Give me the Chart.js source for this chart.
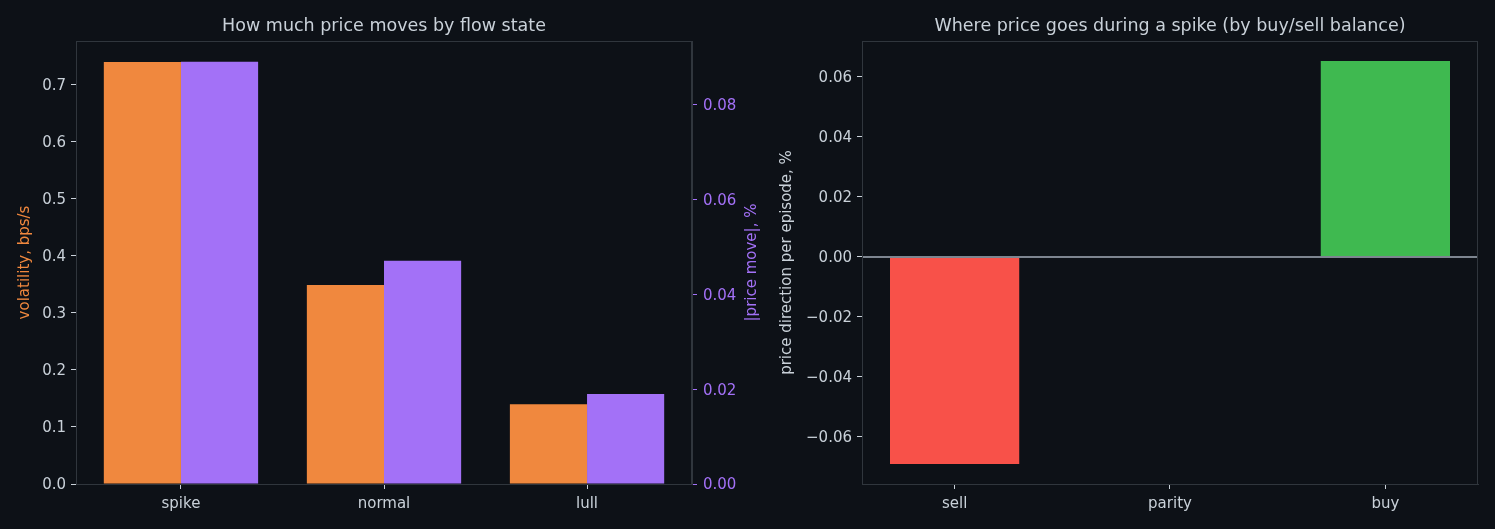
<!DOCTYPE html>
<html><head><meta charset="utf-8">
<script src="https://cdn.jsdelivr.net/npm/chart.js@4"></script>
<style>
html,body{margin:0;padding:0;background:#0d1117;width:1495px;height:529px;overflow:hidden}
canvas{position:absolute;top:0}
</style></head><body>
<canvas id="c1" width="770" height="529" style="left:0"></canvas>
<canvas id="c2" width="725" height="529" style="left:770px"></canvas>
<script>
// ---- data ----
const flowStates = ['spike', 'normal', 'lull'];
const volatility = [0.740, 0.349, 0.140];          // bps/s
const priceMoveAbs = [0.0891, 0.0471, 0.0190];     // %
const volTicks = [0, 0.1, 0.2, 0.3, 0.4, 0.5, 0.6, 0.7];
const volTickLabels = ['0.0','0.1','0.2','0.3','0.4','0.5','0.6','0.7'];
const moveTicks = [0, 0.02, 0.04, 0.06, 0.08];
const moveTickLabels = ['0.00','0.02','0.04','0.06','0.08'];

const balances = ['sell', 'parity', 'buy'];
const direction = [-0.069, 0.0, 0.0653];           // % per episode
const dirTicks = [-0.06, -0.04, -0.02, 0, 0.02, 0.04, 0.06];
const dirTickLabels = ['\u22120.06','\u22120.04','\u22120.02','0.00','0.02','0.04','0.06'];

// ---- style ----
const BG = '#0d1117', FG = '#c9d1d9', SPINE = '#30363d';
const ORANGE = '#f0883e', PURPLE = '#a371f7', RED = '#f85149', GREEN = '#3fb950', GRAY = '#8b949e';
Chart.defaults.font.family = 'DejaVu Sans';
Chart.defaults.font.size = 15;
Chart.defaults.color = FG;

function fixedTicks(vals){ return s => { s.ticks = vals.map(v => ({value: v})); }; }

const framePlugin = {
  id: 'frame',
  beforeDraw(chart){
    const c = chart.ctx; c.save(); c.fillStyle = BG; c.fillRect(0,0,chart.width,chart.height); c.restore();
  },
  afterDraw(chart, args, opts){
    const c = chart.ctx, a = chart.chartArea;
    c.save();
    c.strokeStyle = SPINE; c.lineWidth = 1;
    c.strokeRect(Math.round(a.left)+0.5, Math.round(a.top)+0.5, Math.round(a.right-a.left)-1, Math.round(a.bottom-a.top));
    c.fillStyle = FG; c.font = '17.5px "DejaVu Sans"'; c.textAlign = 'center'; c.textBaseline = 'middle';
    c.fillText(opts.title, (a.left+a.right)/2, 26);
    c.font = '15px "DejaVu Sans"';
    (opts.axisTitles||[]).forEach(t => {
      c.save(); c.translate(t.x, (a.top+a.bottom)/2); c.rotate(-Math.PI/2);
      c.fillStyle = t.color; c.fillText(t.text, 0, 0); c.restore();
    });
    c.restore();
  }
};
const zeroLine = {
  id: 'zeroLine',
  afterDatasetsDraw(chart){
    const y = chart.scales.y.getPixelForValue(0), a = chart.chartArea, c = chart.ctx;
    c.save(); c.strokeStyle = '#7d8590'; c.lineWidth = 2;
    c.beginPath(); c.moveTo(a.left, y); c.lineTo(a.right, y); c.stroke(); c.restore();
  }
};

function tickGrid(color){ return {display:true, offset:false, drawOnChartArea:false, drawTicks:true, tickLength:5, tickColor:color, tickWidth:1}; }

new Chart(document.getElementById('c1'), {
  type: 'bar',
  data: {
    datasets: [
      {data: volatility.map((v,i)=>({x:i,y:v})), backgroundColor: ORANGE, yAxisID:'y', categoryPercentage:0.76, barPercentage:1},
      {data: priceMoveAbs.map((v,i)=>({x:i,y:v})), backgroundColor: PURPLE, yAxisID:'y1', categoryPercentage:0.76, barPercentage:1}
    ]
  },
  options: {
    responsive:false, animation:false,
    layout:{padding:{top:41}},
    plugins:{legend:{display:false}, tooltip:{enabled:false},
      frame:{title:'How much price moves by flow state', axisTitles:[
        {text:'volatility, bps/s', x:25, color:ORANGE},
        {text:'|price move|, %', x:752, color:PURPLE}]}},
    scales:{
      x:{type:'linear', offset:false, min:-0.517, max:2.517, afterBuildTicks: fixedTicks([0,1,2]),
         ticks:{color:FG, padding:6, maxRotation:0, callback:v=>flowStates[v]},
         grid:tickGrid(FG), border:{display:true,color:SPINE}, afterFit:s=>{s.height=45;}},
      y:{position:'left', min:0, max:0.777, afterBuildTicks: fixedTicks(volTicks),
         ticks:{color:FG, padding:5, labelOffset:1.5, callback:v=>volTickLabels[volTicks.findIndex(t=>Math.abs(t-v)<1e-9)]},
         grid:tickGrid(FG), border:{display:true,color:SPINE}, afterFit:s=>{s.width=76;}},
      y1:{position:'right', min:0, max:0.0935, afterBuildTicks: fixedTicks(moveTicks),
         ticks:{color:PURPLE, padding:6, labelOffset:1.5, callback:v=>moveTickLabels[moveTicks.findIndex(t=>Math.abs(t-v)<1e-9)]},
         grid:tickGrid(PURPLE), border:{display:true,color:SPINE}, afterFit:s=>{s.width=78;}}
    }
  },
  plugins:[framePlugin]
});

new Chart(document.getElementById('c2'), {
  type: 'bar',
  data: {
    datasets: [
      {data: direction.map((v,i)=>({x:i,y:v})), backgroundColor:[RED, GRAY, GREEN], categoryPercentage:0.6, barPercentage:1}
    ]
  },
  options: {
    responsive:false, animation:false,
    layout:{padding:{top:41, right:17}},
    plugins:{legend:{display:false}, tooltip:{enabled:false},
      frame:{title:'Where price goes during a spike (by buy/sell balance)', axisTitles:[
        {text:'price direction per episode, %', x:17, color:FG}]}},
    scales:{
      x:{type:'linear', offset:false, min:-0.43, max:2.43, afterBuildTicks: fixedTicks([0,1,2]),
         ticks:{color:FG, padding:6, maxRotation:0, callback:v=>balances[v]},
         grid:tickGrid(FG), border:{display:true,color:SPINE}, afterFit:s=>{s.height=45;}},
      y:{position:'left', min:-0.0757, max:0.072, afterBuildTicks: fixedTicks(dirTicks),
         ticks:{color:FG, padding:5, labelOffset:1.5, callback:v=>dirTickLabels[dirTicks.findIndex(t=>Math.abs(t-v)<1e-9)]},
         grid:tickGrid(FG), border:{display:true,color:SPINE}, afterFit:s=>{s.width=92;}}
    }
  },
  plugins:[framePlugin, zeroLine]
});
</script></body></html>
